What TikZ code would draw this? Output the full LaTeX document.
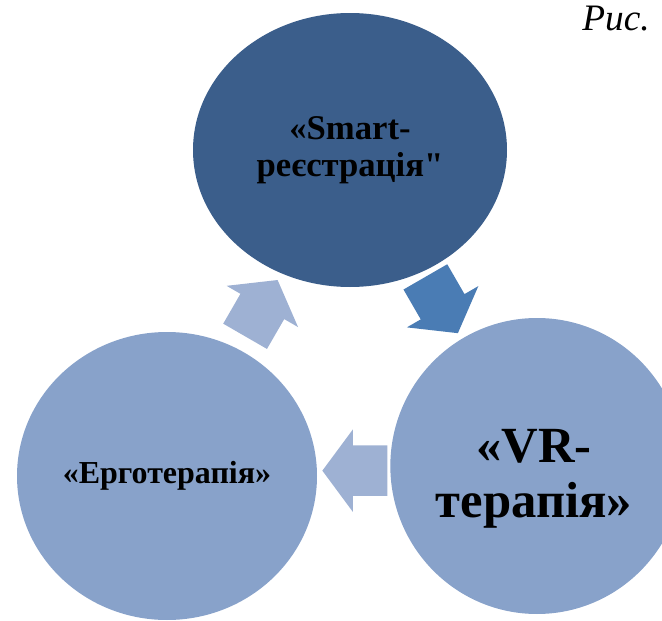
\documentclass[tikz,border=0pt]{standalone}
\usepackage{fontspec}
\setmainfont{Liberation Serif}[Ligatures=TeXOff]
\usetikzlibrary{shapes.geometric, shapes.arrows}
\usetikzlibrary{calc}
\definecolor{topblue}{RGB}{59,94,139}
\definecolor{sideblue}{RGB}{136,162,202}
\definecolor{paleblue}{RGB}{158,177,211}
\definecolor{midblue}{RGB}{74,124,180}
\tikzstyle{stage} = [ellipse, inner sep=0pt, text centered, align=center]
\tikzstyle{cyclearrow} = [single arrow, inner xsep=0pt, inner ysep=18.75pt, minimum height=48.75pt, single arrow head extend=12pt, single arrow tip angle=107]

\begin{document}
\begin{tikzpicture}[x=0.75pt, y=-0.75pt]
\clip (0,0) rectangle (662,621);

\node (smart) [stage, fill=topblue, minimum width=235.5pt, minimum height=205.5pt, font=\bfseries\fontsize{26}{28}\selectfont] at (350,150) {«Smart-\\реєстрація"};

\node (ergo) [stage, fill=sideblue, minimum width=225pt, minimum height=216pt, font=\bfseries\fontsize{24}{28}\selectfont] at (167,476) {«Ерготерапія»};

\node (vr) [stage, fill=sideblue, minimum width=220pt, minimum height=222pt] at (537,466) {};
\node (vrtext) [align=center, font=\bfseries\fontsize{38}{41}\selectfont] at ($(vr)+(-3,13)$) {«VR-\\терапія»};

\node (a1) [cyclearrow, fill=paleblue, rotate=60] at ($(ergo)!0.49!(smart)$) {};
\node (a2) [cyclearrow, fill=midblue, rotate=-60] at ($(smart)!0.465!(vr)$) {};
\node (a3) [cyclearrow, fill=paleblue, rotate=180] at ($(vr)!0.467!(ergo)$) {};

\node (caption) [anchor=base east, inner sep=0pt, font=\itshape\fontsize{28}{30}\selectfont] at (650,31) {Рис.};

\end{tikzpicture}
\end{document}
